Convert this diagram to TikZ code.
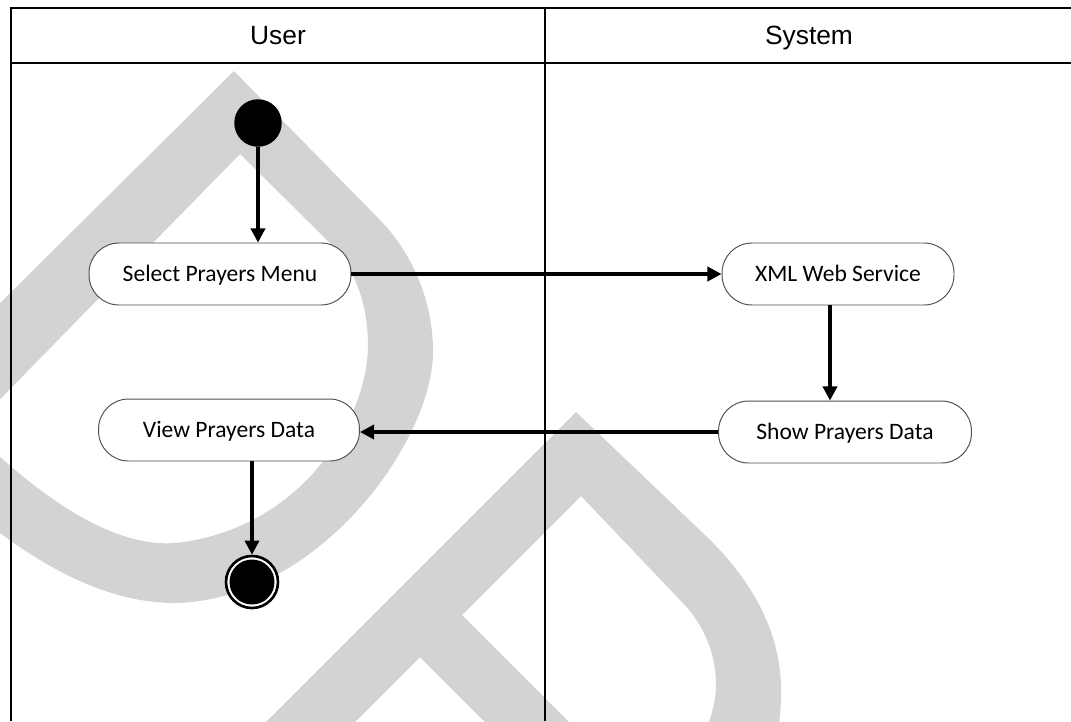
\documentclass[tikz,border=0pt]{standalone}
\usepackage{fontspec}
\setmainfont{Carlito}
\newfontfamily\lanefont{Liberation Sans}
\usetikzlibrary{arrows.meta}
\definecolor{wmgray}{RGB}{211,211,211}
\definecolor{edgegray}{RGB}{80,80,80}
\tikzset{
  lane/.style={draw=black, line width=1.2pt},
  lanehead/.style={font=\lanefont\fontsize{15}{18}\selectfont, inner sep=0,
    anchor=base},
  activity/.style={draw=edgegray, line width=0.55pt, fill=white,
    rounded corners=0.6cm, minimum height=1.24cm, inner sep=0,
    text height=8.6pt, text depth=0pt,
    font=\fontsize{13.4}{15}\selectfont},
  startdot/.style={circle, fill=black, inner sep=0, minimum size=0.95cm},
  enddot/.style={circle, draw=black, line width=1.5pt, fill=white,
    inner sep=0, minimum size=1.04cm},
  flow/.style={draw=black, line width=1.9pt,
    -{Triangle[length=8pt,width=8pt]}},
}
\begin{document}
\begin{tikzpicture}[x=0.02cm,y=-0.02cm]
\useasboundingbox (0,0) rectangle (1071,721);

% background logo shapes
\begin{scope}
  \clip (0,0) rectangle (1071,721);
  \fill[wmgray, even odd rule]
    (234,71) -- (380,220)
      .. controls (412,253) and (433,300) .. (433,352)
      .. controls (433,440) and (320,600) .. (175,603)
      .. controls (110,603) and (50,570) .. (0,533)
      -- (-140,442) -- cycle
    (240,154) -- (330,243)
      .. controls (352,265) and (368,300) .. (368,345)
      .. controls (368,420) and (300,530) .. (175,543)
      .. controls (120,547) and (60,510) .. (0,457)
      -- (-31,431) -- cycle;
  \fill[wmgray, even odd rule]
    (576,412) -- (705,535)
      .. controls (750,578) and (781,630) .. (781,690)
      .. controls (781,740) and (770,770) .. (755,800)
      -- (188,800) -- cycle
    (581,496) -- (680,600)
      .. controls (705,625) and (716,655) .. (716,685)
      .. controls (716,710) and (705,735) .. (690,760)
      -- (640,793) -- (462,615) -- cycle
    (420,657) -- (553,790) -- (287,790) -- cycle;
\end{scope}

% swimlanes
\draw[lane] (11,721) -- (11,8) -- (1071,8);
\draw[lane] (11,63) -- (1071,63);
\draw[lane] (545,8) -- (545,721);
\node[lanehead] (userlane) at (278,44) {User};
\node[lanehead] (systemlane) at (809,44) {System};

% activities
\node[startdot] (start) at (258,123) {};
\node[activity, minimum width=5.24cm] (sel) at (220,274) {Select Prayers Menu};
\node[activity, minimum width=4.64cm] (xml) at (838,274) {XML Web Service};
\node[activity, minimum width=5.06cm] (show) at (845,432) {Show Prayers Data};
\node[activity, minimum width=5.22cm] (view) at (229,430) {View Prayers Data};
\node[enddot] (end) at (252,582) {};
\fill (end.center) circle (0.45cm);

% control flow
\coordinate (xmlout) at ([xshift=-0.16cm]xml.south);
\draw[flow] (start) -- (start |- sel.north);
\draw[flow] (sel) -- (xml);
\draw[flow] (xmlout) -- (xmlout |- show.north);
\draw[flow] (show.west) -- (show.west -| view.east);
\draw[flow] (end |- view.south) -- (end);
\end{tikzpicture}
\end{document}
